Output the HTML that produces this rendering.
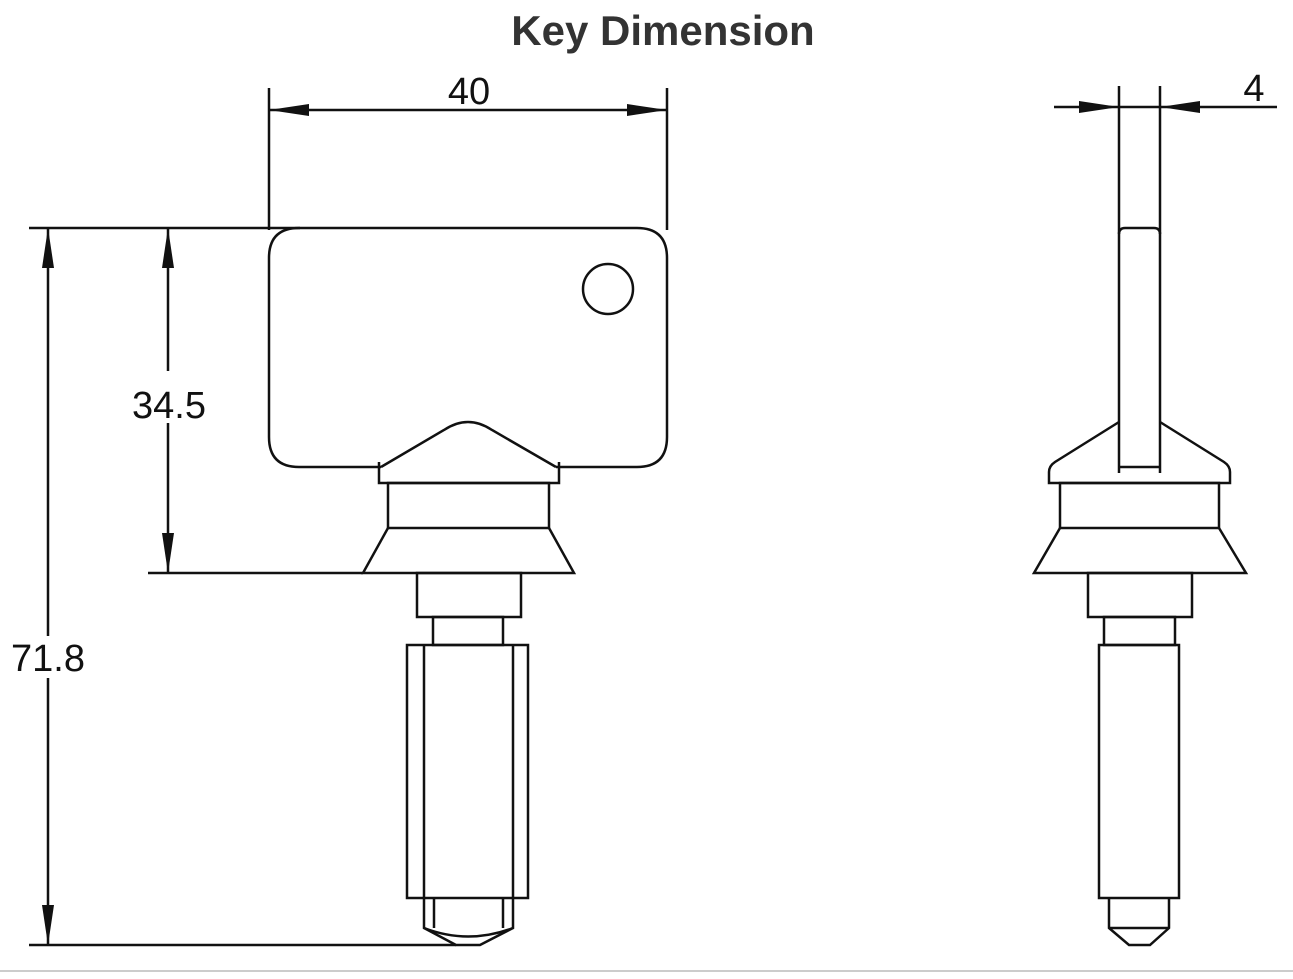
<!DOCTYPE html>
<html><head><style>
html,body{margin:0;padding:0;background:#fff;width:1293px;height:979px;overflow:hidden}
svg{display:block}
text{font-family:"Liberation Sans",Arial,sans-serif}
</style></head><body>
<svg width="1293" height="979" viewBox="0 0 1293 979" xmlns="http://www.w3.org/2000/svg">
<text x="663" y="45" text-anchor="middle" font-size="42" font-weight="bold" fill="#333">Key Dimension</text>
<line x1="0" y1="971" x2="1293" y2="971" stroke="#ccc" stroke-width="2"/>
<g stroke="#111" stroke-width="2.5" fill="none">
<line x1="269" y1="88" x2="269" y2="230"/>
<line x1="667" y1="88" x2="667" y2="230"/>
<line x1="269" y1="110" x2="667" y2="110"/>
<line x1="29" y1="228" x2="300" y2="228"/>
<line x1="148" y1="573" x2="363" y2="573"/>
<line x1="29" y1="945" x2="456" y2="945"/>
<line x1="168" y1="228" x2="168" y2="371"/>
<line x1="168" y1="423" x2="168" y2="573"/>
<line x1="48" y1="228" x2="48" y2="636"/>
<line x1="48" y1="678" x2="48" y2="945"/>
<path d="M381,467 H299 Q269,467 269,437 V258 Q269,228 299,228 H637 Q667,228 667,258 V437 Q667,467 637,467 H556"/>
<circle cx="608" cy="289" r="25"/>
<path d="M381,467 L444,430 Q468,414 492,430 L556,467"/>
<path d="M379,462 V483 H559 V462"/>
<rect x="388" y="483" width="161" height="45"/>
<path d="M388,528 L363,573 H574 L549,528"/>
<rect x="417" y="573" width="104" height="44"/>
<rect x="433" y="617" width="70" height="28"/>
<rect x="407" y="645" width="121" height="253"/>
<line x1="424" y1="645" x2="424" y2="898"/>
<line x1="513" y1="645" x2="513" y2="898"/>
<path d="M424,898 V928 L456,945 H480 L513,928 V898"/>
<line x1="434" y1="898" x2="434" y2="928"/>
<line x1="503" y1="898" x2="503" y2="928"/>
<path d="M424,928 Q468,945 513,928"/>
<line x1="1054" y1="107" x2="1277" y2="107"/>
<line x1="1119" y1="86" x2="1119" y2="473"/>
<line x1="1160" y1="86" x2="1160" y2="473"/>
<path d="M1119,467 H1160"/>
<path d="M1119,234 Q1119,228 1125,228 H1154 Q1160,228 1160,234"/>
<path d="M1119,422 L1055,462 Q1049,466 1049,472 V483 H1230 V472 Q1230,466 1224,462 L1160,422"/>
<rect x="1060" y="483" width="159" height="45"/>
<path d="M1060,528 L1034,573 H1246 L1219,528"/>
<rect x="1088" y="573" width="104" height="44"/>
<rect x="1104" y="617" width="71" height="28"/>
<rect x="1099" y="645" width="80" height="253"/>
<path d="M1109,898 V928 L1129,945 H1150 L1169,928 V898"/>
<line x1="1109" y1="928" x2="1169" y2="928"/>
</g>
<g fill="#111">
<polygon points="269,110 309,104 309,116"/>
<polygon points="667,110 627,104 627,116"/>
<polygon points="1119,107 1079,101 1079,113"/>
<polygon points="1160,107 1200,101 1200,113"/>
<polygon points="168,228 162,268 174,268"/>
<polygon points="168,573 162,533 174,533"/>
<polygon points="48,228 42,268 54,268"/>
<polygon points="48,945 42,905 54,905"/>
</g>
<g font-size="38" fill="#111" text-anchor="middle">
<text x="469" y="104">40</text>
<text x="1254" y="101">4</text>
<text x="169" y="418">34.5</text>
<text x="48" y="671">71.8</text>
</g>
</svg>
</body></html>
